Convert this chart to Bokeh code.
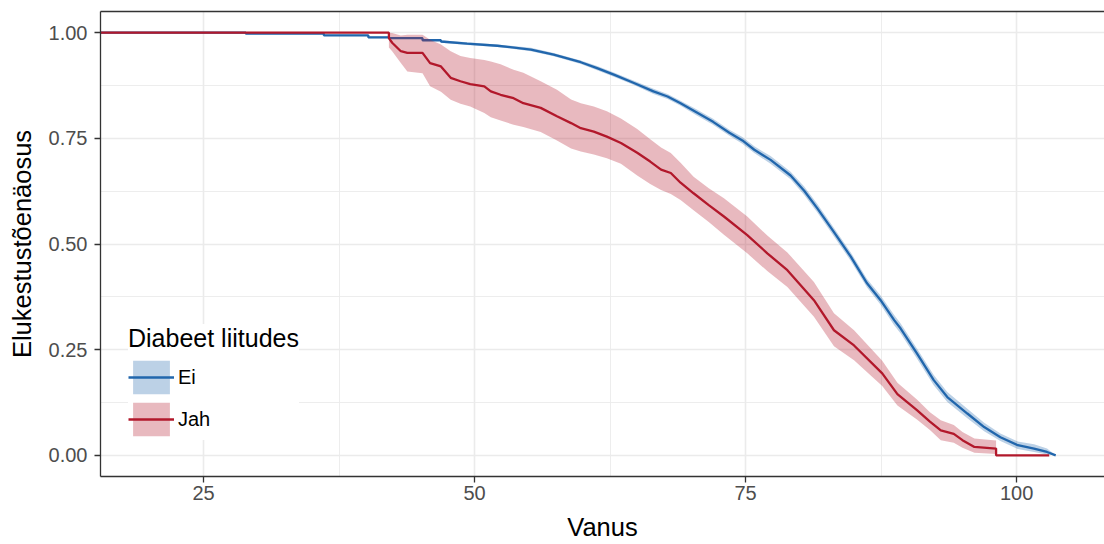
from bokeh.plotting import figure
from bokeh.models import (FixedTicker, LinearAxis, Legend, LegendItem, Range1d,
                          NumeralTickFormatter, ColumnDataSource)
from bokeh.embed import file_html
from bokeh.resources import INLINE

# ---- data ----
groups = ["Ei", "Jah"]
legend_title = "Diabeet liitudes"
x_ticks = [25, 50, 75, 100]
y_ticks = [0.0, 0.25, 0.5, 0.75, 1.0]

blue_age = [15.5, 28.9, 28.9, 36.1, 36.1, 40.2, 40.2, 42.1, 42.1, 45.2, 45.2, 46.9, 46.9,
            49.3, 52.1, 55.2, 57.3, 59.8, 61.3, 62.9, 64.7, 66.5, 67.8, 69.0,
            70.5, 72.0, 73.5, 74.7, 75.8, 77.3, 79.15, 80.4, 81.6, 83.15,
            84.7, 86.2, 87.45, 88.7, 89.3, 90.8, 92.35, 93.6, 95.45, 97.0,
            98.5, 100.1, 101.6, 102.8, 103.6]
blue_surv = [1.0, 1.0, .9976, .9976, .9936, .9936, .9889, .9889, .987, .987, .982, .982, .979,
             .974, .969, .960, .948, .930, .916, .900, .881, .861, .849, .833,
             .811, .789, .763, .745, .723, .699, .662, .626, .585, .528,
             .470, .407, .367, .320, .300, .241, .178, .138, .099, .067,
             .043, .024, .016, .008, 0.0]
blue_lo = [1.0, 1.0, .996, .996, .992, .992, .987, .987, .985, .985, .980, .980, .976,
           .971, .966, .956, .944, .926, .911, .895, .876, .855, .843, .827,
           .804, .782, .756, .737, .715, .690, .653, .616, .575, .518,
           .460, .397, .356, .308, .288, .229, .166, .126, .088, .057,
           .034, .015, .008, .002, 0.0]
blue_hi = [1.0, 1.0, .999, .999, .995, .995, .991, .991, .989, .989, .984, .984, .982,
           .977, .972, .964, .952, .934, .921, .905, .886, .867, .855, .839,
           .818, .796, .770, .753, .731, .708, .671, .636, .595, .538,
           .480, .417, .378, .332, .312, .253, .190, .150, .110, .077,
           .052, .033, .026, .016, 0.0]

red_age = [15.5, 42.1, 42.1, 42.4, 43.2, 43.8, 45.2, 45.9, 46.9, 47.8,
           48.7, 49.6, 50.9, 51.5, 52.4, 53.6, 54.5, 56.1, 57.6, 58.9,
           59.8, 61.0, 62.2, 63.5, 65.0, 66.2, 67.2, 68.1, 69.0, 70.2,
           71.6, 73.0, 75.15, 77.0, 78.85, 81.3, 83.15, 85.0, 87.6, 89.0,
           90.8, 92.0, 93.0, 94.2, 95.0, 96.1, 98.1, 98.1, 103.0]
red_surv = [1.0, 1.0, .987, .976, .956, .952, .952, .928, .920, .893,
            .885, .878, .873, .861, .853, .845, .833, .822, .802, .786,
            .774, .766, .754, .739, .716, .695, .676, .668, .645, .620,
            .592, .565, .521, .478, .438, .367, .296, .260, .194, .145,
            .107, .080, .059, .051, .036, .020, .016, 0.0, 0.0]
red_hi = [1.0, 1.0, 1.0, .999, .993, .995, .995, .983, .972, .956,
          .945, .940, .935, .932, .925, .912, .905, .885, .865, .842,
          .833, .825, .814, .797, .772, .748, .728, .715, .692, .659,
          .632, .608, .565, .520, .480, .410, .336, .296, .224, .172,
          .132, .102, .083, .072, .055, .040, .035, 0.0, 0.0]
red_lo = [1.0, 1.0, .965, .956, .928, .908, .904, .873, .860, .841,
          .832, .825, .810, .800, .792, .782, .777, .765, .745, .726,
          .719, .712, .703, .690, .662, .642, .628, .618, .604, .580,
          .552, .522, .478, .436, .398, .328, .258, .225, .164, .118,
          .085, .060, .036, .030, .018, .006, .003, 0.0, 0.0]

BLUE = "#2166AC"
RED = "#B2182B"
FONT = "Liberation Sans"

p = figure(width=1104, height=544, output_backend="svg", toolbar_location=None,
           x_range=Range1d(15.5, 108.1), y_range=Range1d(-0.05, 1.05),
           min_border_left=100, min_border_right=0, min_border_top=11,
           min_border_bottom=68, background_fill_color="white",
           border_fill_color="white")
p.outline_line_color = None

bsrc = ColumnDataSource(dict(x=blue_age, y=blue_surv, lo=blue_lo, hi=blue_hi))
rsrc = ColumnDataSource(dict(x=red_age, y=red_surv, lo=red_lo, hi=red_hi))

bband = p.varea(x="x", y1="lo", y2="hi", source=bsrc, fill_color=BLUE, fill_alpha=0.3)
bline = p.line(x="x", y="y", source=bsrc, line_color=BLUE, line_width=2.3)
rband = p.varea(x="x", y1="lo", y2="hi", source=rsrc, fill_color=RED, fill_alpha=0.3)
rline = p.line(x="x", y="y", source=rsrc, line_color=RED, line_width=2.3)

# grids
p.xgrid.ticker = FixedTicker(ticks=x_ticks, minor_ticks=[12.5, 37.5, 62.5, 87.5])
p.ygrid.ticker = FixedTicker(ticks=y_ticks, minor_ticks=[0.125, 0.375, 0.625, 0.875])
for g in (p.xgrid, p.ygrid):
    g.grid_line_color = "#EBEBEB"
    g.grid_line_width = 1.6
    g.minor_grid_line_color = "#EBEBEB"
    g.minor_grid_line_width = 0.9

# axes
for ax in (p.xaxis, p.yaxis):
    ax.axis_line_color = "#333333"
    ax.axis_line_width = 1.3
    ax.major_tick_line_color = "#333333"
    ax.major_tick_line_width = 1.3
    ax.major_tick_out = 6
    ax.major_tick_in = 0
    ax.minor_tick_out = 0
    ax.minor_tick_in = 0
    ax.major_label_text_font = FONT
    ax.major_label_text_font_size = "20px"
    ax.major_label_text_color = "#4D4D4D"
    ax.axis_label_text_font = FONT
    ax.axis_label_text_font_size = "25.5px"
    ax.axis_label_text_font_style = "normal"
    ax.axis_label_text_color = "black"
p.xaxis.ticker = FixedTicker(ticks=x_ticks)
p.yaxis.ticker = FixedTicker(ticks=y_ticks)
p.yaxis.formatter = NumeralTickFormatter(format="0.00")
p.xaxis.axis_label = "Vanus"
p.yaxis.axis_label = "Elukestustõenäosus"
p.xaxis.major_label_standoff = 3
p.yaxis.major_label_standoff = 7
p.xaxis.axis_label_standoff = 10
p.yaxis.axis_label_standoff = 10

top = LinearAxis(ticker=FixedTicker(ticks=[]), major_label_text_font_size="0px",
                 major_tick_out=0, major_tick_in=0, minor_tick_out=0, minor_tick_in=0,
                 axis_line_color="#333333", axis_line_width=1.3, major_label_standoff=0)
p.add_layout(top, "above")

legend = Legend(items=[LegendItem(label=groups[0], renderers=[bband, bline]),
                       LegendItem(label=groups[1], renderers=[rband, rline])],
                location=(28, 36), title=legend_title,
                title_text_font=FONT, title_text_font_size="25px",
                title_text_font_style="normal", title_text_color="black",
                title_standoff=3,
                label_text_font=FONT, label_text_font_size="20px",
                label_text_color="black", label_standoff=4,
                glyph_width=46, glyph_height=42, spacing=0, padding=10, margin=0,
                border_line_color=None, background_fill_color="white",
                background_fill_alpha=1.0)
p.add_layout(legend)

open("out.html", "w").write(file_html(p, INLINE))
